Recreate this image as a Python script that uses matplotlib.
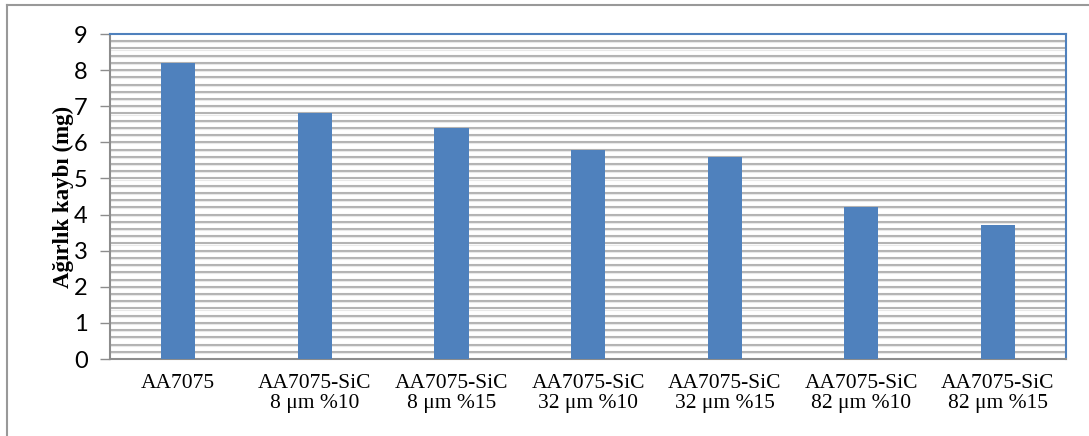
import matplotlib.pyplot as plt
import numpy as np
from matplotlib.lines import Line2D

# agirlik kaybi verileri
kategoriler = ["AA7075",
               "AA7075-SiC\n8 μm %10",
               "AA7075-SiC\n8 μm %15",
               "AA7075-SiC\n32 μm %10",
               "AA7075-SiC\n32 μm %15",
               "AA7075-SiC\n82 μm %10",
               "AA7075-SiC\n82 μm %15"]
kayip = [8.2, 6.8, 6.4, 5.8, 5.6, 4.2, 3.7]
y_ticks = [0, 1, 2, 3, 4, 5, 6, 7, 8, 9]

mavi = "#4f81bd"
gri = "#8c8c8c"

fig = plt.figure(figsize=(10.89, 4.36), dpi=100)
ax = fig.add_axes([0.101, 0.1766, 0.878, 0.7454])

x = np.arange(len(kategoriler))
ax.bar(x, kayip, width=0.25, color=mavi, zorder=3)

# ince yatay kilavuz cizgileri (0.2 aralikla)
for yy in np.arange(0.2, 9.0, 0.2):
    ax.axhline(yy, color="#b3b3b3", lw=1.5, zorder=1)
    ax.axhline(yy - 0.03, color="#e8e8e8", lw=0.8, zorder=1)

ax.set_xlim(-0.5, len(kategoriler) - 0.5)
ax.set_ylim(0, 9)
ax.set_yticks(y_ticks)
ax.set_yticklabels([str(t) for t in y_ticks], family="Lato", fontsize=17)
ax.set_xticks(x)
ax.set_xticklabels(kategoriler, family="Liberation Serif", fontsize=15.5,
                   linespacing=1.05)
ax.tick_params(axis="y", length=7, width=1, color=gri, pad=9)
ax.tick_params(axis="x", length=0, pad=11)

ax.spines["left"].set_color(gri)
ax.spines["bottom"].set_color(gri)
ax.spines["left"].set_linewidth(1.5)
ax.spines["bottom"].set_linewidth(1.5)
ax.spines["top"].set_color(mavi)
ax.spines["right"].set_color(mavi)
ax.spines["top"].set_linewidth(1.5)
ax.spines["right"].set_linewidth(1.5)

ax.set_ylabel("Ağırlık kaybı (mg)", family="Liberation Serif",
              fontweight="bold", fontsize=16.5, labelpad=0)

# dis cerceve (ust ve sol kenar)
fig.add_artist(Line2D([7 / 1089, 1], [1 - 5 / 436, 1 - 5 / 436],
                      color="#999999", lw=1.5, transform=fig.transFigure))
fig.add_artist(Line2D([7 / 1089, 7 / 1089], [0, 1 - 5 / 436],
                      color="#999999", lw=1.5, transform=fig.transFigure))

fig.savefig("out.png", dpi=100)
